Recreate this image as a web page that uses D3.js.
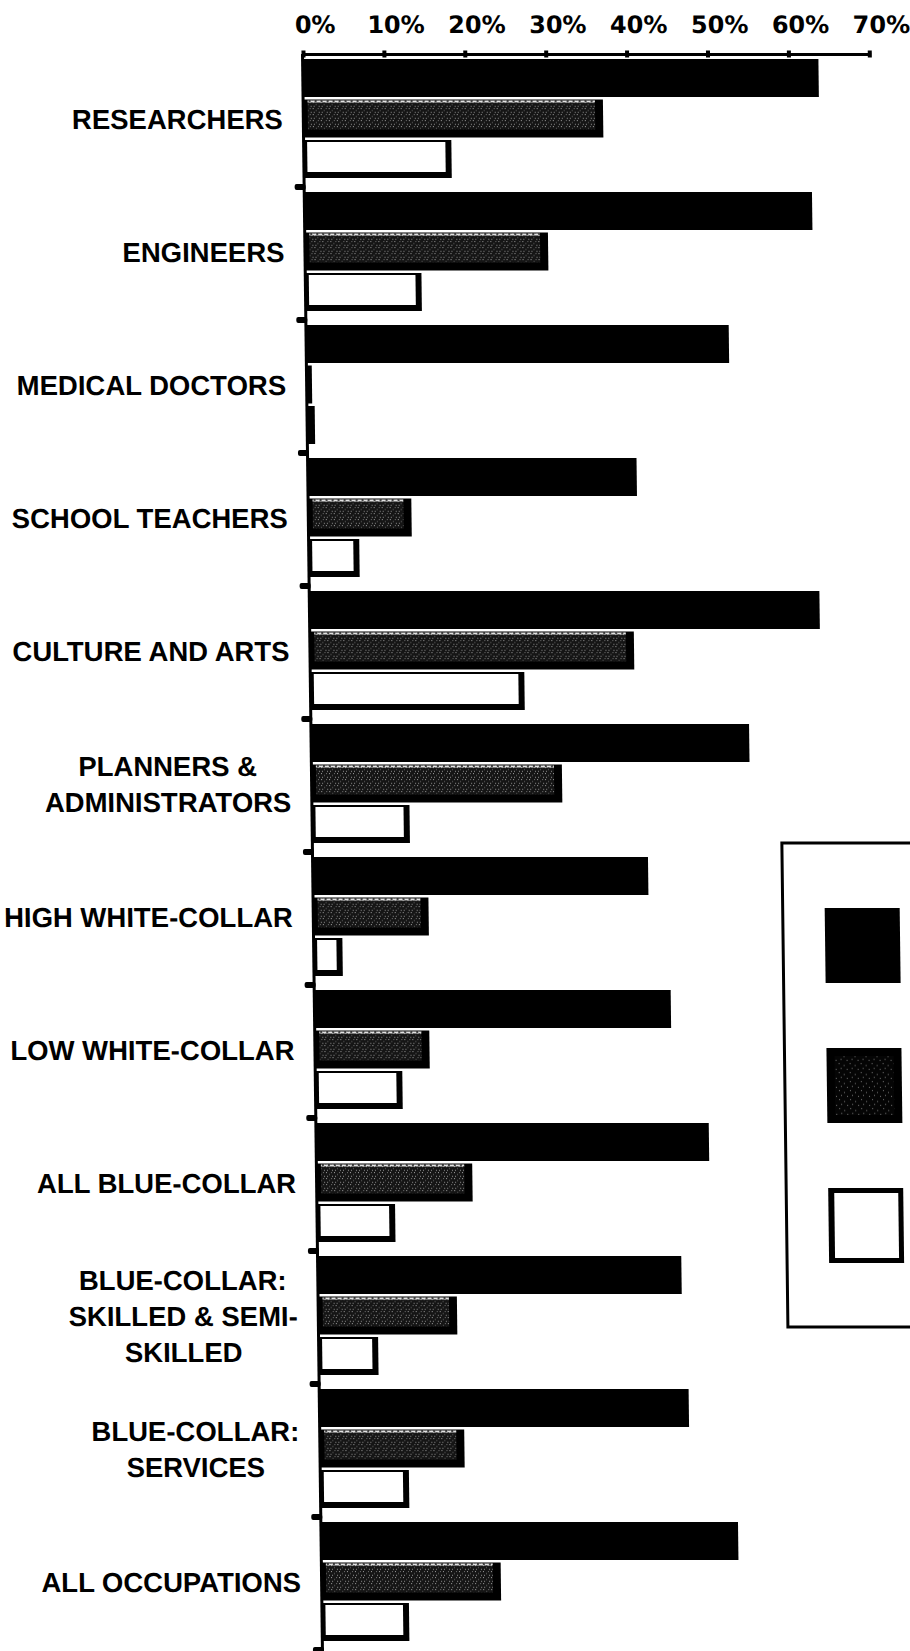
<!DOCTYPE html>
<html>
<head>
<meta charset="utf-8">
<script src="https://cdn.jsdelivr.net/npm/d3@7"></script>
<style>
  html, body { margin: 0; padding: 0; background: #fff; }
  svg { display: block; }
</style>
</head>
<body>
<svg id="chart" width="910" height="1651"></svg>
<script>
// ---- data ----
const categories = [
  "RESEARCHERS",
  "ENGINEERS",
  "MEDICAL DOCTORS",
  "SCHOOL TEACHERS",
  "CULTURE AND ARTS",
  "PLANNERS &\nADMINISTRATORS",
  "HIGH WHITE-COLLAR",
  "LOW WHITE-COLLAR",
  "ALL BLUE-COLLAR",
  "BLUE-COLLAR:\nSKILLED & SEMI-\nSKILLED",
  "BLUE-COLLAR:\nSERVICES",
  "ALL OCCUPATIONS"
];
const seriesKeys = ["solid", "shaded", "open"];
const solidValues  = [63.7, 62.7, 52.2, 40.6, 63.0, 54.1, 41.4, 44.0, 48.5, 44.9, 45.6, 51.5];
const shadedValues = [37.0, 30.0, 0.6, 12.7, 40.0, 30.9, 14.2, 14.1, 19.2, 17.1, 17.8, 22.1];
const openValues   = [18.2, 14.3, 0.9, 6.2, 26.4, 12.0, 3.5, 10.7, 9.6, 7.3, 10.9, 10.7];
const tickValues   = [0, 10, 20, 30, 40, 50, 60, 70];

const valuesBySeries = { solid: solidValues, shaded: shadedValues, open: openValues };

// ---- layout ----
const W = 910, H = 1651;
const axisTop = 54;
const groupH = 133;
const shear = 0.0125;           // the printed page leans slightly to the right going down

const svg = d3.select("#chart");
const defs = svg.append("defs");

// dark halftone used for the shaded series
const speck = defs.append("pattern").attr("id", "speck")
  .attr("width", 8).attr("height", 6).attr("patternUnits", "userSpaceOnUse");
speck.append("rect").attr("width", 8).attr("height", 6).attr("fill", "#151515");
[[0,0],[3,2],[6,4],[5,0],[1,4]].forEach(([px,py], i) =>
  speck.append("rect").attr("x", px).attr("y", py).attr("width", 1).attr("height", 1)
    .attr("fill", i % 2 ? "#6e6e6e" : "#9a9a9a"));

// light ragged fringe along the top of the shaded bars
const fringe = defs.append("pattern").attr("id", "fringe")
  .attr("width", 6).attr("height", 3).attr("patternUnits", "userSpaceOnUse");
fringe.append("rect").attr("width", 6).attr("height", 3).attr("fill", "#e2e2e2");
fringe.append("rect").attr("x", 2).attr("y", 1).attr("width", 2).attr("height", 2).attr("fill", "#444");
fringe.append("rect").attr("x", 5).attr("y", 0).attr("width", 1).attr("height", 1).attr("fill", "#777");

// sparse specks for the legend key
const sparse = defs.append("pattern").attr("id", "sparse")
  .attr("width", 11).attr("height", 9).attr("patternUnits", "userSpaceOnUse");
sparse.append("rect").attr("width", 11).attr("height", 9).attr("fill", "#050505");
[[1,1],[6,3],[9,7],[3,6]].forEach(([px,py]) =>
  sparse.append("rect").attr("x", px).attr("y", py).attr("width", 1).attr("height", 1).attr("fill", "#7c7c7c"));

const g = svg.append("g")
  .attr("transform", `matrix(1,0,${shear},1,${-shear * axisTop},0)`);

// ---- scales ----
const x = d3.scaleLinear().domain([0, 70]).range([303, 303 + 70 * 8.09]);
const y = d3.scaleBand().domain(categories).range([axisTop, axisTop + groupH * categories.length]);
const inner = d3.scaleBand().domain(seriesKeys).range([5, 124]).paddingInner(0.06);
const x0 = x(0);

// ---- bars ----
const rows = categories.map((c, i) => ({ c, i }));
const groups = g.selectAll("g.row").data(rows).join("g")
  .attr("class", "row")
  .attr("transform", d => `translate(0,${y(d.c)})`);

groups.each(function(d) {
  const row = d3.select(this);
  seriesKeys.forEach(key => {
    const v = valuesBySeries[key][d.i];
    const w = x(v) - x0;
    const by = inner(key), bh = inner.bandwidth();
    row.append("rect").attr("x", x0).attr("y", by).attr("width", w).attr("height", bh).attr("fill", "#000");
    if (key === "shaded") {
      const iw = w - 4 - 8;
      if (iw > 0) {
        row.append("rect").attr("x", x0 + 4).attr("y", by + 1).attr("width", iw).attr("height", bh - 9)
          .attr("fill", "url(#speck)");
        row.append("rect").attr("x", x0 + 4).attr("y", by + 1).attr("width", iw).attr("height", 2)
          .attr("fill", "url(#fringe)");
      }
    } else if (key === "open") {
      const iw = w - 3 - 6;
      if (iw > 0) {
        row.append("rect").attr("x", x0 + 3).attr("y", by + 2).attr("width", iw).attr("height", bh - 8)
          .attr("fill", "#fff");
      }
    }
  });
});

// ---- vertical axis with group separators ----
g.append("line")
  .attr("x1", x0 - 0.5).attr("x2", x0 - 0.5)
  .attr("y1", axisTop).attr("y2", H + 5)
  .attr("stroke", "#000").attr("stroke-width", 3);

g.selectAll("rect.sep").data(categories).join("rect")
  .attr("class", "sep")
  .attr("x", x0 - 10).attr("width", 11)
  .attr("y", d => y(d) + y.bandwidth() - 3).attr("height", 6)
  .attr("rx", 2)
  .attr("fill", "#000");

// ---- top value axis ----
const axis = g.append("g")
  .attr("transform", `translate(0,${axisTop})`)
  .call(d3.axisTop(x).tickValues(tickValues).tickFormat(d => d + "%").tickSize(0).tickSizeOuter(0));
axis.select(".domain").attr("stroke", "#000").attr("stroke-width", 3);
axis.selectAll(".tick line")
  .attr("y1", -3.5).attr("y2", 3.5)
  .attr("stroke", "#000").attr("stroke-width", 4);
axis.selectAll(".tick text")
  .attr("y", -21).attr("dy", 0).attr("dx", 12)
  .attr("fill", "#000")
  .style("font-family", "'DejaVu Sans', sans-serif")
  .style("font-weight", "bold")
  .style("font-size", "24px");

// ---- category labels ----
const labelRight = x0 - 21;
const lineGap = 36;
const labels = g.selectAll("text.cat").data(rows).join("text")
  .attr("class", "cat")
  .attr("text-anchor", "middle")
  .attr("fill", "#000")
  .style("font-family", "'Liberation Sans', Arial, Helvetica, sans-serif")
  .style("font-weight", "bold")
  .style("font-size", "27.5px");

labels.each(function(d) {
  const t = d3.select(this);
  const lines = d.c.split("\n");
  const cy = y(d.c) + y.bandwidth() / 2;
  const spans = lines.map((ln, j) =>
    t.append("tspan")
      .attr("y", cy + (j - (lines.length - 1) / 2) * lineGap + 9)
      .text(ln));
  const maxW = d3.max(spans, s => s.node().getComputedTextLength());
  spans.forEach(s => s.attr("x", labelRight - maxW / 2));
});

// ---- legend (keys only; runs past the right edge) ----
const legend = g.append("g");
legend.append("rect")
  .attr("x", 772).attr("y", 843).attr("width", 220).attr("height", 484)
  .attr("fill", "none").attr("stroke", "#000").attr("stroke-width", 3);
seriesKeys.forEach((key, i) => {
  const ly = 908 + i * 140, lx = 814, s = 75;
  legend.append("rect").attr("x", lx).attr("y", ly).attr("width", s).attr("height", s).attr("fill", "#000");
  if (key === "shaded") {
    legend.append("rect").attr("x", lx + 8).attr("y", ly + 8).attr("width", s - 16).attr("height", s - 16)
      .attr("fill", "url(#sparse)");
  } else if (key === "open") {
    legend.append("rect").attr("x", lx + 6).attr("y", ly + 5).attr("width", s - 11).attr("height", s - 10)
      .attr("fill", "#fff");
  }
});
</script>
</body>
</html>
